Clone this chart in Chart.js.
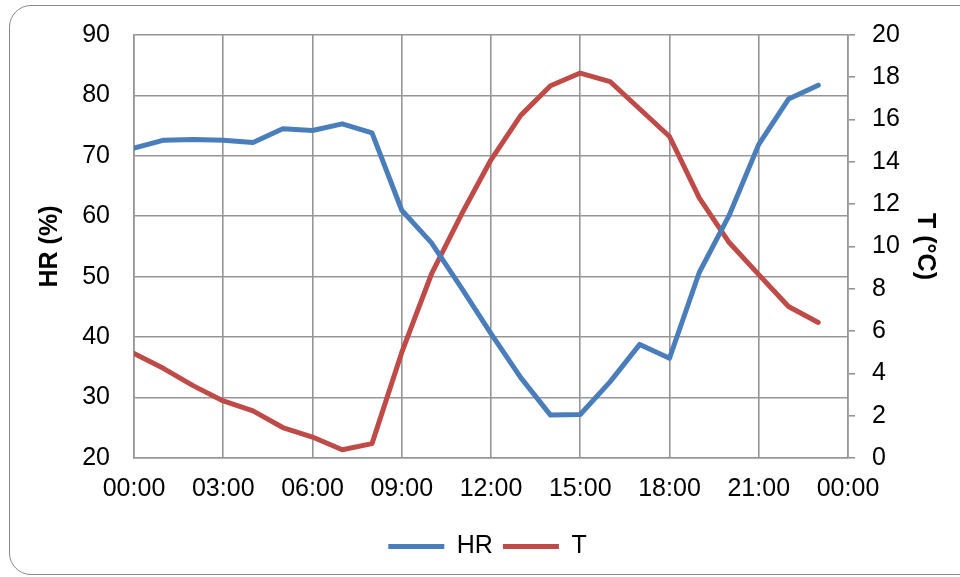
<!DOCTYPE html>
<html>
<head>
<meta charset="utf-8">
<script src="https://cdn.jsdelivr.net/npm/chart.js@4"></script>
<style>
  body { margin: 0; background: #fff; }
  #wrap { position: relative; width: 960px; height: 577px; overflow: hidden; }
  #frame {
    position: absolute; left: 9px; top: 5px; width: 970px; height: 568px;
    border: 1.5px solid #8a8a8a; border-radius: 22px; pointer-events: none;
  }
  canvas { position: absolute; left: 0; top: 0; }
</style>
</head>
<body>
<div id="wrap">
  <div id="frame"></div>
  <canvas id="chart" width="960" height="577"></canvas>
</div>
<script>
// hourly readings, 00:00 .. 23:00
const hours = [0, 1, 2, 3, 4, 5, 6, 7, 8, 9, 10, 11, 12, 13, 14, 15, 16, 17, 18, 19, 20, 21, 22, 23];
const hrValues = [71.3, 72.6, 72.7, 72.6, 72.2, 74.5, 74.2, 75.3, 73.8, 61.0, 55.6, 48.2, 40.6, 33.3, 27.1, 27.2, 32.6, 38.8, 36.5, 50.7, 60.1, 71.9, 79.4, 81.7];
const tValues = [4.94, 4.23, 3.41, 2.70, 2.23, 1.44, 0.99, 0.39, 0.68, 4.99, 8.7, 11.5, 14.1, 16.2, 17.6, 18.2, 17.8, 16.5, 15.2, 12.3, 10.2, 8.67, 7.16, 6.41];
const xTicks = ['00:00', '03:00', '06:00', '09:00', '12:00', '15:00', '18:00', '21:00', '00:00'];

const FONT = "'Liberation Sans', Arial, sans-serif";
const GRID = '#969696';

const toPoints = vals => hours.map((h, i) => ({ x: h, y: vals[i] }));

const ctx = document.getElementById('chart').getContext('2d');
new Chart(ctx, {
    type: 'line',
    data: {
        datasets: [{
            label: 'HR',
            data: toPoints(hrValues),
            borderColor: '#4A7EBB',
            backgroundColor: '#4A7EBB',
            borderWidth: 5,
            borderCapStyle: 'round',
            borderJoinStyle: 'round',
            pointRadius: 0,
            yAxisID: 'y'
        }, {
            label: 'T',
            data: toPoints(tValues),
            borderColor: '#BE4B48',
            backgroundColor: '#BE4B48',
            borderWidth: 5,
            borderCapStyle: 'round',
            borderJoinStyle: 'round',
            pointRadius: 0,
            yAxisID: 'y1'
        }]
    },
    options: {
        responsive: false,
        animation: false,
        layout: { padding: { left: 35, right: 20, top: 35, bottom: 8 } },
        scales: {
            x: {
                type: 'linear',
                min: 0,
                max: 24,
                afterBuildTicks: s => { s.ticks = xTicks.map((t, i) => ({ value: i * 3 })); },
                afterFit: s => { s.height = 66; },
                ticks: {
                    autoSkip: false,
                    maxRotation: 0,
                    padding: 16,
                    color: '#000',
                    font: { family: FONT, size: 25 },
                    callback: (v, i) => xTicks[i]
                },
                grid: { color: GRID, lineWidth: 1.6, drawTicks: false },
                border: { color: GRID, width: 1.6 }
            },
            y: {
                position: 'left',
                min: 20,
                max: 90,
                afterFit: s => { s.width = 99; s.paddingTop = 0; s.paddingBottom = 0; },
                ticks: {
                    stepSize: 10,
                    padding: 24,
                    color: '#000',
                    font: { family: FONT, size: 25 }
                },
                title: {
                    display: true,
                    text: 'HR (%)',
                    color: '#000',
                    padding: 0,
                    font: { family: FONT, size: 25, weight: 'bold' }
                },
                grid: { color: GRID, lineWidth: 1.6, drawTicks: false },
                border: { color: GRID, width: 1.6 }
            },
            y1: {
                position: 'right',
                min: 0,
                max: 20,
                afterFit: s => { s.width = 92; s.paddingTop = 0; s.paddingBottom = 0; },
                ticks: {
                    stepSize: 2,
                    padding: 17,
                    color: '#000',
                    font: { family: FONT, size: 25 }
                },
                title: {
                    display: true,
                    text: 'T (°C)',
                    color: '#000',
                    padding: 0,
                    font: { family: FONT, size: 25, weight: 'bold' }
                },
                grid: { color: GRID, lineWidth: 1.6, drawOnChartArea: false, tickLength: 7 },
                border: { color: GRID, width: 1.6 }
            }
        },
        plugins: {
            legend: {
                position: 'bottom',
                labels: {
                    usePointStyle: true,
                    pointStyle: 'line',
                    pointStyleWidth: 56,
                    color: '#000',
                    font: { family: FONT, size: 25 }
                }
            },
            tooltip: { enabled: false }
        }
    }
});
</script>
</body>
</html>
